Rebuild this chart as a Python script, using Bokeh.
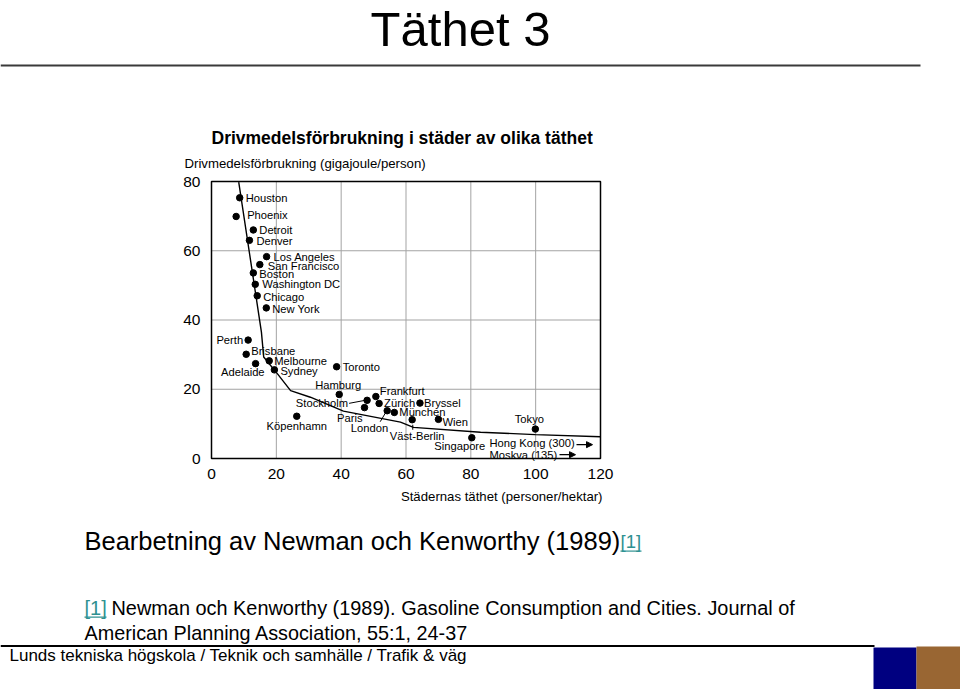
from bokeh.plotting import figure
from bokeh.models import Range1d, Label, BoxAnnotation, Arrow, NormalHead, ColumnDataSource, LinearAxis, FixedTicker
from bokeh.core.properties import value
from bokeh.embed import file_html
from bokeh.resources import INLINE

# ---------------- data ----------------
cities = ["Houston", "Phoenix", "Detroit", "Denver", "Los Angeles", "San Francisco",
          "Boston", "Washington DC", "Chicago", "New York", "Perth", "Brisbane",
          "Adelaide", "Melbourne", "Sydney", "Toronto", "Hamburg", "Köpenhamn",
          "Stockholm", "Paris", "Frankfurt", "Zürich", "Bryssel", "London",
          "München", "Väst-Berlin", "Wien", "Tokyo", "Singapore"]
density = [8.7, 7.6, 12.9, 11.7, 17.0, 14.9, 12.9, 13.5, 14.1, 16.9, 11.3, 10.7,
           13.6, 17.8, 19.4, 38.6, 39.4, 26.3, 48.0, 47.2, 50.7, 51.7, 64.3, 54.2,
           56.4, 61.9, 70.0, 99.9, 80.3]
fuel = [75.3, 69.9, 66.0, 63.0, 58.3, 56.0, 53.6, 50.3, 47.0, 43.5, 34.2, 30.1,
        27.4, 28.2, 25.6, 26.5, 18.5, 12.2, 16.8, 14.7, 17.9, 15.9, 16.0, 13.8,
        13.3, 11.2, 11.3, 8.5, 6.0]

trend_x = [8.4, 15.4, 16.1, 20.3, 24.4, 30.5, 40.7, 58.3, 62.3, 83.0, 99.9, 120.0]
trend_y = [79.8, 36.5, 29.3, 24.5, 19.6, 17.7, 13.7, 10.5, 9.0, 7.6, 6.9, 6.3]

offscale_cities = ["Hong Kong", "Moskva"]
offscale_density = [300, 135]
offscale_fuel = [4.0, 1.1]

x_ticks = [0, 20, 40, 60, 80, 100, 120]
y_ticks = [0, 20, 40, 60, 80]

# label placement (screen pixel offsets from each dot)
label_align = ["left", "left", "left", "left", "left", "left", "left", "left", "left", "left",
               "right", "left", "right", "left", "left", "left", "center", "center",
               "right", "right", "left", "left", "left", "right", "left", "center",
               "left", "center", "center"]
label_dx = [6, 11, 6, 7, 7, 8, 6, 7, 6, 6, -5, 5, 9, 5, 6, 6, -1, 0, -19, -2, 4, 5, 4,
            1, 5, 5, 4, -6, -12]
label_dy = [0, -1, 0, 1, 0, 1, 1, 0, 1, 1, 0, -3, 8, 0, 1, 0, -9, 10, 3, 10, -6, 0, 0,
            17, 0, 16, 3, -10, 8]

FONT = "Liberation Sans"

# page geometry (pixels): chart area 211..600 x 181..458
W, H = 960, 689
PL, PR, PT, PB = 211, 600, 181, 458
SX = (PR - PL) / 120.0
SY = (PB - PT) / 80.0


def X(px):
    # page pixel -> chart data x
    return (px - PL) / SX


def Y(py):
    return (PB - py) / SY


p = figure(width=W, height=H, min_border=0,
           x_range=Range1d(X(0), X(W)), y_range=Range1d(Y(H), Y(0)),
           x_axis_location=None, y_axis_location=None,
           output_backend="svg", toolbar_location=None)
p.grid.visible = False
p.background_fill_color = "white"
p.border_fill_color = "white"
p.outline_line_color = None

# axes fixed at the chart's origin
xax = LinearAxis(fixed_location=0, bounds=(x_ticks[0], x_ticks[-1]), ticker=FixedTicker(ticks=x_ticks))
yax = LinearAxis(fixed_location=0, bounds=(y_ticks[0], y_ticks[-1]), ticker=FixedTicker(ticks=y_ticks))
for ax in (xax, yax):
    ax.axis_line_color = None
    ax.major_tick_line_color = None
    ax.minor_tick_line_color = None
    ax.major_tick_out = 0
    ax.major_tick_in = 0
    ax.minor_tick_out = 0
    ax.major_label_text_font = FONT
    ax.major_label_text_font_size = "15.5px"
    ax.major_label_text_color = "black"
xax.major_label_standoff = 10
yax.major_label_standoff = 11
p.add_layout(xax, "below")
p.add_layout(yax, "left")

# grid lines and frame
gx = x_ticks[1:-1]
gy = y_ticks[1:-1]
p.segment(x0=gx, y0=[y_ticks[0]] * len(gx), x1=gx, y1=[y_ticks[-1]] * len(gx),
          line_color="#a3a3a3", line_width=1)
p.segment(x0=[x_ticks[0]] * len(gy), y0=gy, x1=[x_ticks[-1]] * len(gy), y1=gy,
          line_color="#a3a3a3", line_width=1)
p.quad(left=[x_ticks[0]], right=[x_ticks[-1]], bottom=[y_ticks[0]], top=[y_ticks[-1]],
       fill_color=None, line_color="black", line_width=1.5)

# trend curve and cities
p.line(trend_x, trend_y, line_color="black", line_width=1.4)
p.scatter(density, fuel, size=6.5, color="black")

for align in ("left", "right", "center"):
    idx = [i for i, a in enumerate(label_align) if a == align]
    src = ColumnDataSource(dict(
        x=[density[i] for i in idx], y=[fuel[i] for i in idx],
        text=[cities[i] for i in idx],
        dx=[label_dx[i] for i in idx], dy=[label_dy[i] for i in idx]))
    p.text(x="x", y="y", text="text", x_offset="dx", y_offset="dy", source=src,
           text_align=align, text_baseline="middle", text_font=value(FONT),
           text_font_size="11.2px", text_color="black")

# leader lines (pixel offsets from dots)
leaders = {"Stockholm": (-18, 3, -2, 0), "London": (-1, 1, -7, 11), "Väst-Berlin": (0.6, 5, 0.6, 10)}
lx0, ly0, lx1, ly1 = [], [], [], []
for name, (a, b, c, d) in leaders.items():
    i = cities.index(name)
    lx0.append(density[i] + a / SX)
    ly0.append(fuel[i] - b / SY)
    lx1.append(density[i] + c / SX)
    ly1.append(fuel[i] - d / SY)
p.segment(lx0, ly0, lx1, ly1, line_color="black", line_width=1)

# off-scale cities
off_text = [f"{c} ({d})" for c, d in zip(offscale_cities, offscale_density)]
p.text(x=[X(489)] * 2, y=offscale_fuel, text=off_text, y_offset=[-2, 0],
       text_align="left", text_baseline="middle", text_font=value(FONT),
       text_font_size="11.2px", text_color="black")
arrow_start = [X(576), X(559)]
arrow_end = [X(592), X(575)]
for xs, xe, yv in zip(arrow_start, arrow_end, offscale_fuel):
    p.add_layout(Arrow(x_start=xs, y_start=yv, x_end=xe, y_end=yv, line_width=1.2,
                       line_color="black",
                       end=NormalHead(size=6, fill_color="black", line_color="black")))


def label(px, py, text, size, align="left", color="black", style="normal"):
    p.add_layout(Label(x=X(px), y=Y(py), text=text, text_font=FONT,
                       text_font_size=size, text_font_style=style,
                       text_align=align, text_baseline="middle", text_color=color))


# chart title and axis labels
label(211, 137, "Drivmedelsförbrukning i städer av olika täthet", "17.5px", style="bold")
label(184, 163, "Drivmedelsförbrukning (gigajoule/person)", "13.2px")
label(602, 496, "Städernas täthet (personer/hektar)", "13.2px", align="right")

# slide elements
TEAL = "#2f9191"
label(460, 28, "Täthet 3", "49px", align="center")
p.add_layout(BoxAnnotation(left=X(0), right=X(920), top=Y(64), bottom=Y(66),
                           fill_color="#3a3a3a", fill_alpha=1, line_color=None))

label(84, 540, "Bearbetning av Newman och Kenworthy (1989)", "25.5px")
label(620, 541, "[1]", "18.5px", color=TEAL)
p.add_layout(BoxAnnotation(left=X(620), right=X(641), top=Y(550), bottom=Y(551.2),
                           fill_color=TEAL, fill_alpha=1, line_color=None))

label(84, 607, "[1]", "20px", color=TEAL)
p.add_layout(BoxAnnotation(left=X(84), right=X(106), top=Y(616), bottom=Y(617.2),
                           fill_color=TEAL, fill_alpha=1, line_color=None))
label(111, 607, "Newman och Kenworthy (1989). Gasoline Consumption and Cities. Journal of", "19.9px")
label(84, 632, "American Planning Association, 55:1, 24-37", "19.8px")

p.add_layout(BoxAnnotation(left=X(0), right=X(874), top=Y(644.5), bottom=Y(646.5),
                           fill_color="black", fill_alpha=1, line_color=None))
label(9, 655, "Lunds tekniska högskola / Teknik och samhälle / Trafik & väg", "17px")
p.add_layout(BoxAnnotation(left=X(873), right=X(916), top=Y(647), bottom=Y(700),
                           fill_color="#000080", fill_alpha=1, line_color=None))
p.add_layout(BoxAnnotation(left=X(916), right=X(970), top=Y(646), bottom=Y(700),
                           fill_color="#996633", fill_alpha=1, line_color=None))

open("out.html", "w").write(file_html(p, INLINE))
